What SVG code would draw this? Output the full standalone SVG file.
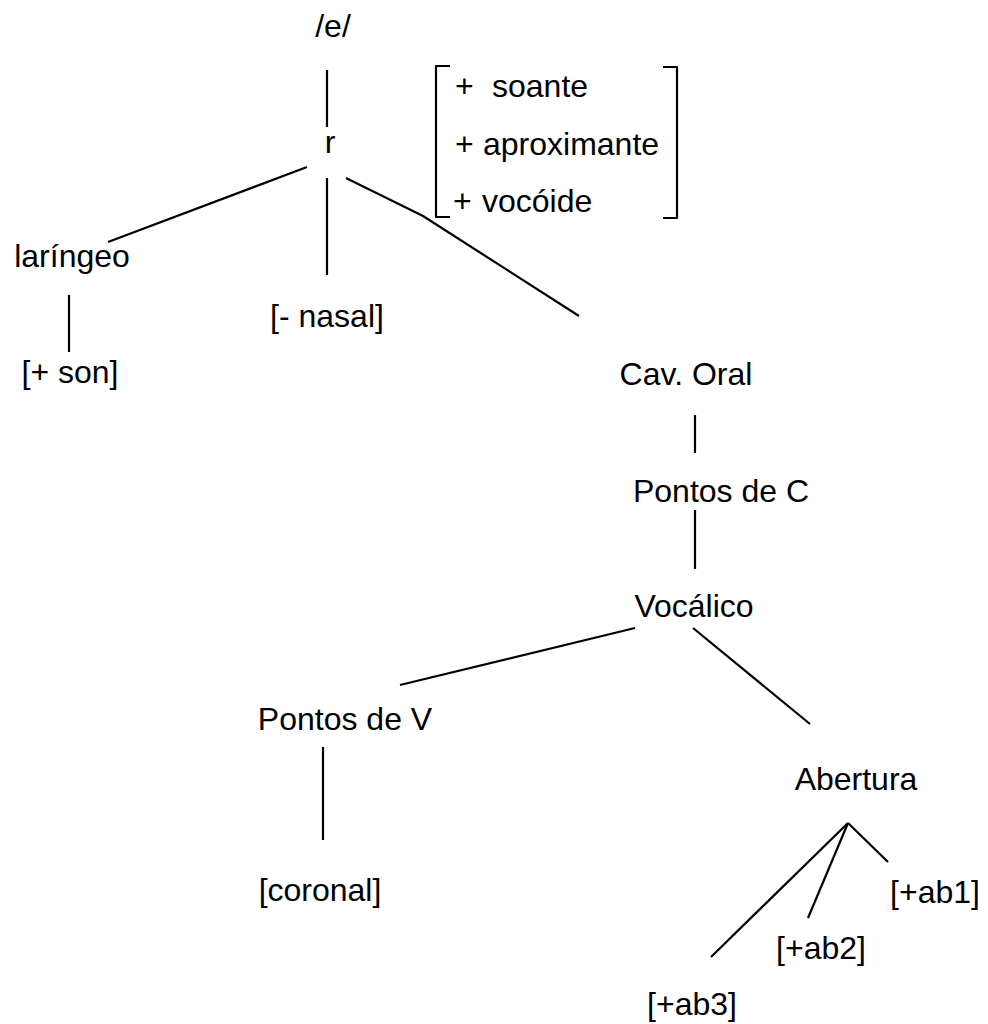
<svg xmlns="http://www.w3.org/2000/svg" width="988" height="1024" viewBox="0 0 988 1024">
<style>
  text { font-family: "Liberation Sans", Arial, sans-serif; font-size: 32px; fill: #000; }
  .c { text-anchor: middle; }
  .ln { stroke: #000; stroke-width: 2.2; fill: none; stroke-linecap: butt; stroke-linejoin: round; }
</style>
<rect width="988" height="1024" fill="#fff"/>
<g id="connectors">
  <line class="ln" x1="327" y1="70" x2="327" y2="127"/>
  <line class="ln" x1="307" y1="167" x2="108" y2="242"/>
  <line class="ln" x1="327" y1="178" x2="327" y2="275"/>
  <polyline class="ln" points="346,178 423,216 579,316"/>
  <line class="ln" x1="69" y1="295" x2="69" y2="352"/>
  <line class="ln" x1="695" y1="415" x2="695" y2="453"/>
  <line class="ln" x1="695" y1="510" x2="695" y2="569"/>
  <line class="ln" x1="635" y1="628" x2="400" y2="685"/>
  <line class="ln" x1="693" y1="628" x2="810" y2="724"/>
  <line class="ln" x1="323" y1="747" x2="323" y2="840"/>
  <line class="ln" x1="848" y1="823" x2="888" y2="862"/>
  <line class="ln" x1="848" y1="823" x2="808" y2="918"/>
  <line class="ln" x1="848" y1="823" x2="711" y2="957"/>
</g>
<g id="node-e"><text class="c" x="333" y="37">/e/</text></g>
<g id="node-r"><text class="c" x="330" y="153">r</text></g>
<g id="node-features">
  <path class="ln" d="M450,66 H436 V217 H450"/>
  <path class="ln" d="M663,67 H677 V218 H663"/>
  <text x="455" y="97">+<tspan x="492">soante</tspan></text>
  <text x="455" y="155">+<tspan x="483">aproximante</tspan></text>
  <text x="453" y="212">+<tspan x="482">vocóide</tspan></text>
</g>
<g id="node-laringeo"><text class="c" x="72" y="267">laríngeo</text></g>
<g id="node-son"><text class="c" x="70" y="383">[+ son]</text></g>
<g id="node-nasal"><text class="c" x="327" y="327">[- nasal]</text></g>
<g id="node-cavoral"><text class="c" x="686" y="385">Cav. Oral</text></g>
<g id="node-pontosC"><text class="c" x="721" y="502">Pontos de C</text></g>
<g id="node-vocalico"><text class="c" x="694" y="617">Vocálico</text></g>
<g id="node-pontosV"><text class="c" x="345" y="730">Pontos de V</text></g>
<g id="node-coronal"><text class="c" x="320" y="901">[coronal]</text></g>
<g id="node-abertura"><text class="c" x="856" y="790">Abertura</text></g>
<g id="node-ab1"><text class="c" x="935" y="903">[+ab1]</text></g>
<g id="node-ab2"><text class="c" x="821" y="959">[+ab2]</text></g>
<g id="node-ab3"><text class="c" x="692" y="1015">[+ab3]</text></g>
</svg>
